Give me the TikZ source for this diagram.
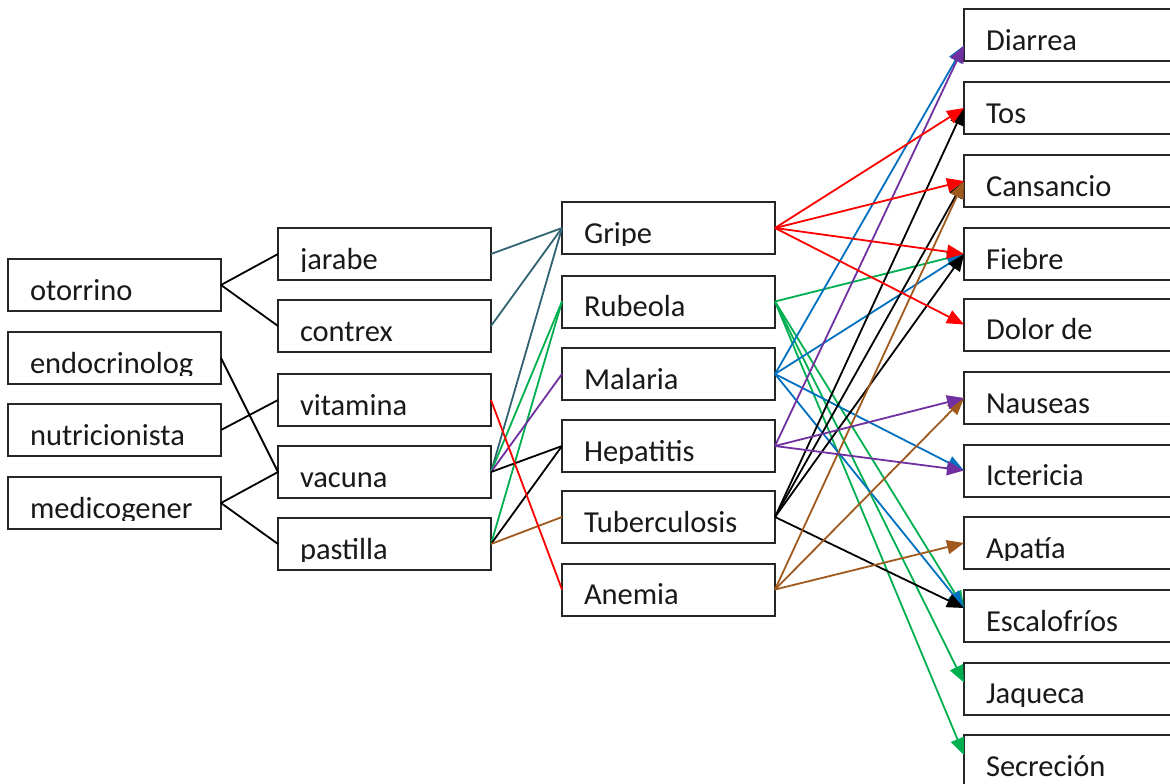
\documentclass[tikz,border=0pt]{standalone}
\usepackage{fontspec}
\setmainfont{Carlito}
\usetikzlibrary{arrows.meta}
\definecolor{slate}{RGB}{49,99,115}
\definecolor{dgreen}{RGB}{0,176,80}
\definecolor{dpurple}{RGB}{112,48,160}
\definecolor{dblue}{RGB}{0,112,192}
\definecolor{dbrown}{RGB}{160,90,30}
\definecolor{dred}{RGB}{255,0,0}
\begin{document}
\begin{tikzpicture}[x=1pt,y=-1pt,
  box/.style={draw=black!85, line width=2pt, minimum width=213pt, minimum height=52pt,
    inner sep=0pt, outer sep=0pt,
    path picture={\clip ([yshift=8.5pt]path picture bounding box.south west) rectangle (path picture bounding box.north east);
      \node[anchor=base west, inner sep=0pt, minimum width=0pt, minimum height=0pt, draw=none,
        font=\fontsize{30.5}{36}\selectfont, text=black!90]
        at ([xshift=22pt,yshift=11pt]path picture bounding box.south west) {#1};}},
  link/.style={line width=1.8pt},
  arr/.style={line width=1.8pt, -{Triangle[length=17pt,width=14pt]}}]
\fill[white] (0,0) rectangle (1170,784);
\useasboundingbox (0,0) rectangle (1170,784);
% column 1
\node[box=otorrino] (oto) at (114.5,285) {};
\node[box=endocrinolog] (endo) at (114.5,358) {};
\node[box=nutricionista] (nut) at (114.5,430) {};
\node[box=medicogener] (med) at (114.5,503) {};
% column 2
\node[box=jarabe] (jar) at (384.5,254) {};
\node[box=contrex] (con) at (384.5,326) {};
\node[box=vitamina] (vit) at (384.5,400) {};
\node[box=vacuna] (vac) at (384.5,472) {};
\node[box=pastilla] (pas) at (384.5,544) {};
% column 3
\node[box=Gripe] (gri) at (668.5,228) {};
\node[box=Rubeola] (rub) at (668.5,301.5) {};
\node[box=Malaria] (mal) at (668.5,374) {};
\node[box=Hepatitis] (hep) at (668.5,446) {};
\node[box=Tuberculosis] (tub) at (668.5,517) {};
\node[box=Anemia] (ane) at (668.5,589.5) {};
% column 4
\node[box=Diarrea] (dia) at (1070.5,35.5) {};
\node[box=Tos] (tos) at (1070.5,108) {};
\node[box=Cansancio] (cans) at (1070.5,181) {};
\node[box=Fiebre] (fie) at (1070.5,254) {};
\node[box={Dolor de}] (dol) at (1070.5,324.5) {};
\node[box=Nauseas] (nau) at (1070.5,398) {};
\node[box=Ictericia] (ict) at (1070.5,470.5) {};
\node[box=Apatía] (apa) at (1070.5,543) {};
\node[box=Escalofríos] (esc) at (1070.5,616) {};
\node[box=Jaqueca] (jaq) at (1070.5,688.5) {};
\node[box=Secreción] (sec) at (1070.5,761) {};
% column 1 -> 2
\draw[link] (oto.east) -- (jar.west);
\draw[link] (oto.east) -- (con.west);
\draw[link] (endo.east) -- (vac.west);
\draw[link] (nut.east) -- (vit.west);
\draw[link] (med.east) -- (vac.west);
\draw[link] (med.east) -- (pas.west);
% column 2 -> 3
\draw[link,slate] (jar.east) -- (gri.west);
\draw[link,slate] (con.east) -- (gri.west);
\draw[link,slate] (vac.east) -- (gri.west);
\draw[link,dgreen] (vac.east) -- (rub.west);
\draw[link,dgreen] (pas.east) -- (rub.west);
\draw[link,dpurple] (vac.east) -- (mal.west);
\draw[link] (vac.east) -- (hep.west);
\draw[link] (pas.east) -- (hep.west);
\draw[link,dbrown] (pas.east) -- (tub.west);
\draw[link,dred] (vit.east) -- (ane.west);
% column 3 -> 4
\draw[arr,dgreen] (rub.east) -- (fie.west);
\draw[arr,dgreen] (rub.east) -- ([yshift=8pt]esc.west);
\draw[arr,dgreen] (rub.east) -- ([yshift=6pt]jaq.west);
\draw[arr,dgreen] (rub.east) -- ([yshift=6pt]sec.west);
\draw[arr,dblue] (mal.east) -- ([yshift=-10pt]dia.west);
\draw[arr,dblue] (mal.east) -- (fie.west);
\draw[arr,dblue] (mal.east) -- (ict.west);
\draw[arr,dblue] (mal.east) -- ([yshift=8pt]esc.west);
\draw[arr] (tub.east) -- (tos.west);
\draw[arr] (tub.east) -- (cans.west);
\draw[arr] (tub.east) -- (fie.west);
\draw[arr] (tub.east) -- ([yshift=8pt]esc.west);
\draw[arr,dbrown] (ane.east) -- (cans.west);
\draw[arr,dbrown] (ane.east) -- (nau.west);
\draw[arr,dbrown] (ane.east) -- (apa.west);
\draw[arr,dpurple] (hep.east) -- ([yshift=-10pt]dia.west);
\draw[arr,dpurple] (hep.east) -- (nau.west);
\draw[arr,dpurple] (hep.east) -- (ict.west);
\draw[arr,dred] (gri.east) -- (tos.west);
\draw[arr,dred] (gri.east) -- (cans.west);
\draw[arr,dred] (gri.east) -- (fie.west);
\draw[arr,dred] (gri.east) -- (dol.west);
\end{tikzpicture}
\end{document}
